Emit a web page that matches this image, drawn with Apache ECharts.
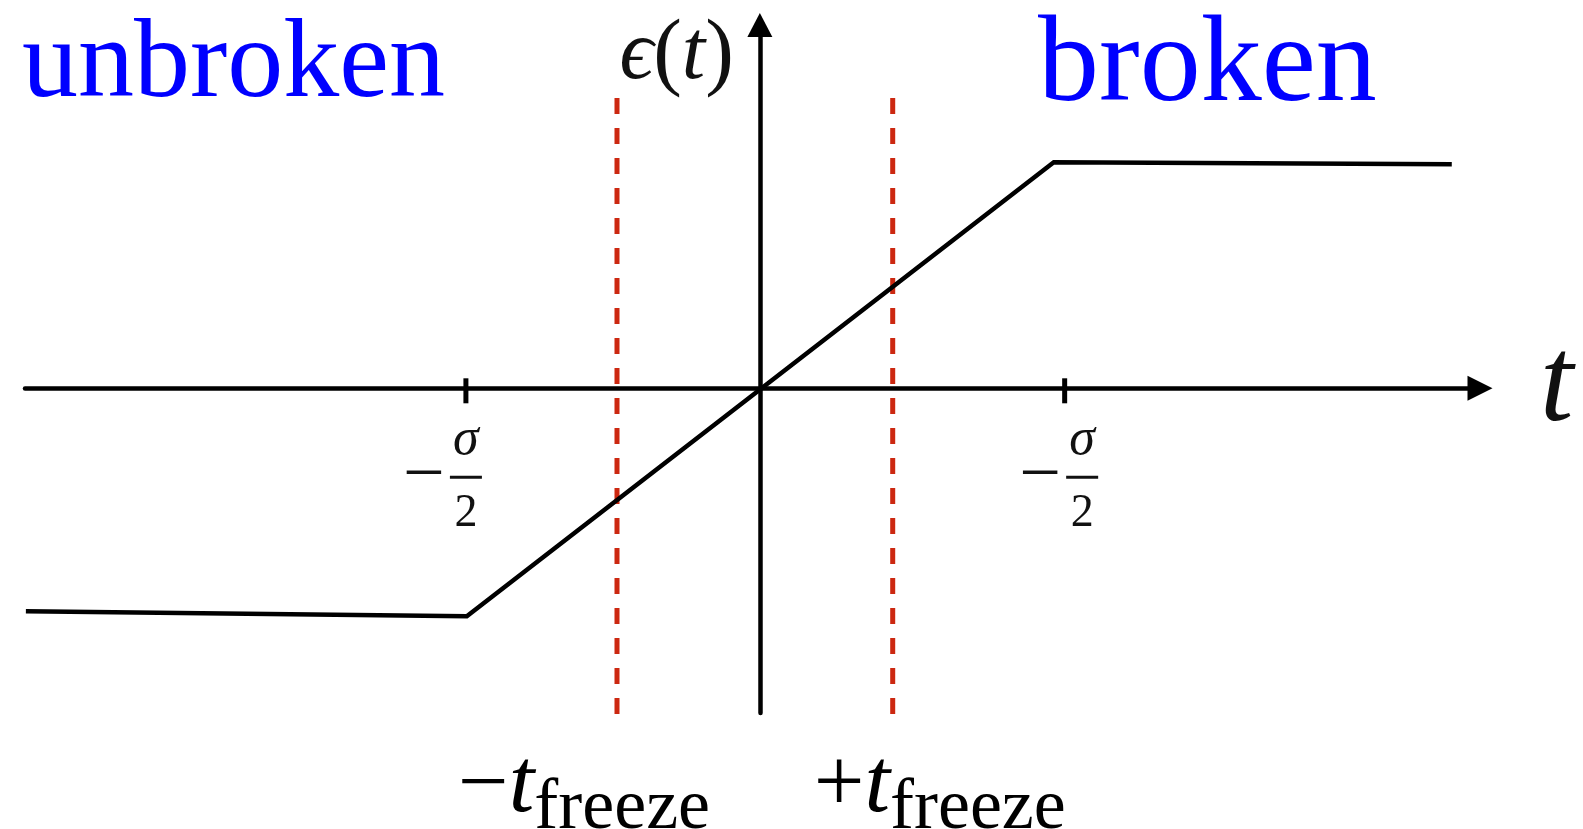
<!DOCTYPE html>
<html>
<head>
<meta charset="utf-8">
<script src="https://cdn.jsdelivr.net/npm/echarts@6/dist/echarts.min.js"></script>
<style>
  html, body { margin: 0; padding: 0; background: #fff; }
  #chart { width: 1583px; height: 829px; }
</style>
</head>
<body>
<div id="chart"></div>
<script>
// t measured in units of sigma/2, eps(t) normalised to its plateau value
const tRange = [-2.5, 2.45];
const epsRange = [-1.43, 1.6];

// Piecewise-linear ramp: flat, straight through the origin, flat
const rampT = [-2.497, -0.997, 1.0, 2.354];
const rampEps = [-0.982, -1.004, 0.996, 0.987];

// Marked points on the t axis and their fraction labels
const tickT = [-1.0, 1.037];
const tickSign = ['−', '−'];
const tickNum = ['σ', 'σ'];
const tickDen = ['2', '2'];

// Freeze-out times and the vertical extent of their dashed markers
const freezeT = [-0.486, 0.452];
const freezeSpan = [-1.471, 1.278];
const freezeSign = ['−', '+'];
const freezeSub = ['freeze', 'freeze'];
const freezeLabelShift = [-33, 47];

// Phase names written above the plot
const phaseNames = ['unbroken', 'broken'];

const SERIF = '"Liberation Serif", "DejaVu Serif", serif';
const RED = '#cc2810';
const BLUE = '#0000ff';
const INK = '#111';
const LINE_W = 4.5;

const chart = echarts.init(document.getElementById('chart'), null, { renderer: 'canvas' });

const tickRich = {
  mp:  { width: 47 },
  rp:  { width: 47 },
  rq:  { width: 12 },
  sig: { width: 32, align: 'center', fontFamily: SERIF, fontStyle: 'italic', fontSize: 52, lineHeight: 40, color: INK },
  m:   { width: 47, align: 'left', fontFamily: SERIF, fontSize: 74, lineHeight: 34, color: INK },
  bar: { width: 32, height: 3, backgroundColor: INK },
  two: { width: 32, align: 'center', fontFamily: SERIF, fontSize: 46, lineHeight: 40, color: INK }
};

function tickLabel(i) {
  // the left label keeps its fraction centred on the tick
  const pad = tickT[i] < 0 ? '{rp|}' : '{rq|}';
  return '{mp|}{sig|' + tickNum[i] + '}' + pad + '\n' +
         '{m|' + tickSign[i] + '}{bar|}' + pad + '\n' +
         '{mp|}{two|' + tickDen[i] + '}' + pad;
}

const freezeRich = {
  m: { fontFamily: SERIF, fontSize: 90, lineHeight: 84, padding: [0, 0, 12, 0], verticalAlign: 'bottom', color: '#000' },
  t: { fontFamily: SERIF, fontStyle: 'italic', fontSize: 92, lineHeight: 84, padding: [0, 0, 12, 0], verticalAlign: 'bottom', color: '#000' },
  s: { fontFamily: SERIF, fontSize: 72, lineHeight: 66, verticalAlign: 'bottom', color: '#000' }
};

const freezeSeries = freezeT.map((t, i) => ({
  type: 'line',
  clip: false,
  silent: true,
  symbol: 'circle',
  symbolSize: 1,
  itemStyle: { color: 'rgba(0,0,0,0)' },
  lineStyle: { color: RED, width: 5, type: [16, 14], cap: 'butt' },
  z: 1,
  data: [
    [t, freezeSpan[1]],
    {
      value: [t, freezeSpan[0]],
      label: {
        show: true,
        position: 'bottom',
        distance: 38,
        offset: [freezeLabelShift[i], 0],
        color: '#000',
        formatter: '{m|' + freezeSign[i] + '}{t|t}{s|' + freezeSub[i] + '}',
        rich: freezeRich
      }
    }
  ]
}));

const option = {
  backgroundColor: '#fff',
  animation: false,
  grid: { left: 25, width: 1455, top: 25, height: 688, containLabel: false, outerBoundsMode: 'none' },
  xAxis: {
    type: 'value',
    min: tRange[0],
    max: tRange[1],
    splitLine: { show: false },
    axisTick: { show: false },
    axisLabel: { show: false },
    axisLine: {
      onZero: true,
      symbol: ['none', 'triangle'],
      symbolSize: [25, 25],
      lineStyle: { color: '#000', width: LINE_W }
    },
    name: 't',
    nameLocation: 'end',
    nameGap: 60,
    nameTextStyle: {
      fontFamily: SERIF, fontStyle: 'italic', fontSize: 120, color: INK,
      align: 'left', verticalAlign: 'middle', padding: [0, 0, 16, 0]
    }
  },
  yAxis: {
    type: 'value',
    min: epsRange[0],
    max: epsRange[1],
    splitLine: { show: false },
    axisTick: { show: false },
    axisLabel: { show: false },
    axisLine: {
      onZero: true,
      symbol: ['none', 'triangle'],
      symbolSize: [25, 24],
      lineStyle: { color: '#000', width: LINE_W }
    },
    name: '{e|ϵ}{p|(}{e|t}{p|)}',
    nameLocation: 'end',
    nameGap: -31,
    nameTextStyle: {
      align: 'right', verticalAlign: 'middle', padding: [0, 26, 0, 0],
      rich: {
        e: { fontFamily: SERIF, fontStyle: 'italic', fontSize: 84, color: INK },
        p: { fontFamily: SERIF, fontSize: 86, color: INK }
      }
    }
  },
  graphic: [
    {
      type: 'text', x: 22, y: 67, silent: true,
      style: { text: phaseNames[0], font: '112px ' + SERIF, fill: BLUE, verticalAlign: 'middle' }
    },
    {
      type: 'text', x: 1038, y: 68, silent: true,
      style: { text: phaseNames[1], font: '122px ' + SERIF, fill: BLUE, verticalAlign: 'middle' }
    }
  ],
  series: [
    {
      type: 'line',
      silent: true,
      symbol: 'none',
      z: 3,
      lineStyle: { color: '#000', width: LINE_W, join: 'miter', cap: 'butt' },
      data: rampT.map((t, i) => [t, rampEps[i]])
    },
    {
      // tick marks crossing the t axis, with their fraction labels below
      type: 'scatter',
      silent: true,
      symbol: 'rect',
      symbolSize: [5, 25],
      symbolOffset: [0, 2.5],
      itemStyle: { color: '#000', opacity: 1 },
      z: 3,
      label: {
        show: true,
        position: 'bottom',
        distance: 17,
        color: INK,
        opacity: 1,
        formatter: p => tickLabel(p.dataIndex),
        rich: tickRich
      },
      data: tickT.map(t => [t, 0])
    }
  ].concat(freezeSeries)
};

chart.setOption(option);
</script>
</body>
</html>
